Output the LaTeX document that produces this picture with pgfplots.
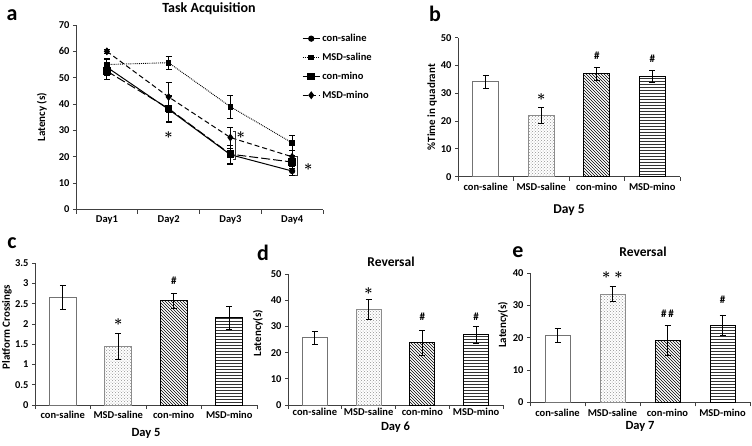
\documentclass[border=0pt]{standalone}
\usepackage{fontspec}
\setmainfont{Carlito}
\usepackage{pgfplots}
\pgfplotsset{compat=1.18}
\usetikzlibrary{patterns}

\newcommand{\st}{{\fontsize{15}{15}\selectfont\boldmath$\ast$}}
\pgfplotsset{
  panel/.style={
    scale only axis,
    axis x line*=bottom, axis y line*=left,
    axis line style={black!75, line width=0.8pt},
    tick style={black!75, line width=0.8pt},
    tick align=outside,
    major tick length=3pt,
    minor tick length=4pt,
    xmin=0.5, xmax=4.5, ymin=0,
    xtick={1,2,3,4},
    major x tick style={draw=none},
    minor xtick={0.5,1.5,2.5,3.5,4.5},
    font=\bfseries,
    /pgf/number format/assume math mode=true,
    tick label style={font=\bfseries\fontsize{10.5}{12}\selectfont},
    label style={font=\bfseries\fontsize{11}{13}\selectfont},
    clip=false,
  },
  barpanel/.style={
    panel,
    xticklabels={con-saline,MSD-saline,con-mino,MSD-mino},
    xlabel style={font=\bfseries\fontsize{13.5}{15}\selectfont, anchor=center},
  },
  ebar/.style={
    error bars/.cd, y dir=both, y explicit,
    error bar style={black, line width=0.8pt, solid},
    error mark options={rotate=90, mark size=3pt, black, line width=0.8pt, solid},
  },
  b1/.style={ybar, bar shift=0pt, fill=white, draw=black!55, line width=1pt},
  b2/.style={ybar, bar shift=0pt, pattern=crosshatch dots, pattern color=gray!85, draw=black!45, line width=1pt},
  b3/.style={ybar, bar shift=0pt, pattern=north west lines, pattern color=black, draw=black, line width=1pt},
  b4/.style={ybar, bar shift=0pt, pattern=horizontal lines, pattern color=black!80, draw=black, line width=1pt},
}

\begin{document}
\begin{tikzpicture}[x=1pt,y=1pt]
\useasboundingbox (0,0) rectangle (752,445);

% panel letters and titles
\node[font=\bfseries\fontsize{22}{24}\selectfont] at (12,430) {a};
\node[font=\bfseries\fontsize{22}{24}\selectfont] at (435,431) {b};
\node[font=\bfseries\fontsize{22}{24}\selectfont] at (12,202) {c};
\node[font=\bfseries\fontsize{22}{24}\selectfont] at (263,192) {d};
\node[font=\bfseries\fontsize{22}{24}\selectfont] at (518,193) {e};
\node[font=\bfseries\fontsize{14}{16}\selectfont] at (209,436) {Task Acquisition};
\node[font=\bfseries\fontsize{13.5}{15}\selectfont] at (391,183) {Reversal};
\node[font=\bfseries\fontsize{13.5}{15}\selectfont] at (643,193) {Reversal};

% ---------- panel a ----------
\begin{axis}[panel, at={(76pt,235.5pt)}, anchor=south west,
  width=247pt, height=184.5pt, ymax=70, ytick={0,10,...,70},
  xticklabels={Day1,Day2,Day3,Day4},
  ylabel={Latency (s)},
  ylabel style={at={(axis description cs:-0.138,0.5)}, anchor=center},
  legend style={at={(rel axis cs:0.915,0.962)}, anchor=north west, draw=none, fill=none,
    font=\bfseries\fontsize{10.5}{12}\selectfont, row sep=6pt, inner sep=0pt},
  legend cell align=left,
]
\addplot[black, line width=1pt, mark=*, mark size=2.6pt, mark options={solid}, ebar]
  coordinates {(1,54) +- (0,3) (2,38) +- (0,5) (3,20.8) +- (0,3.5) (4,14.6) +- (0,1.8)};
\addlegendentry{con-saline}
\addplot[black, line width=0.9pt, densely dotted, mark=square*, mark size=2.3pt, mark options={solid}, ebar]
  coordinates {(1,55) +- (0,2.5) (2,55.7) +- (0,2.5) (3,39) +- (0,4.3) (4,25.3) +- (0,3)};
\addlegendentry{MSD-saline}
\addplot[black, line width=1pt, dash pattern=on 9pt off 3pt, mark=square*, mark size=3.3pt, mark options={solid}, ebar]
  coordinates {(1,52.5) +- (0,3) (2,38.3) +- (0,5) (3,21) +- (0,3.5) (4,18) +- (0,2.5)};
\addlegendentry{con-mino}
\addplot[black, line width=1pt, dash pattern=on 5pt off 3pt, mark=diamond*, mark size=3.2pt, mark options={solid}, ebar]
  coordinates {(1,60) +- (0,0.8) (2,42.7) +- (0,5.7) (3,27.3) +- (0,4) (4,20) +- (0,2.5)};
\addlegendentry{MSD-mino}
\draw[black!80, line width=0.7pt] (axis cs:3.04,29.8) -- (axis cs:3.08,29.8) -- (axis cs:3.08,18.9) -- (axis cs:3.04,18.9);
\draw[black!80, line width=0.7pt] (axis cs:4.05,20.2) -- (axis cs:4.09,20.2) -- (axis cs:4.09,12.9) -- (axis cs:4.05,12.9);
\node at (axis cs:2,28.1) {\st};
\node at (axis cs:3.17,28.1) {\st};
\node at (axis cs:4.26,16.1) {\st};
\end{axis}

% ---------- panel b ----------
\begin{axis}[barpanel, at={(458pt,268.3pt)}, anchor=south west,
  width=222pt, height=139pt, ymax=50, ytick={0,10,...,50},
  ylabel={\%Time in quadrant},
  ylabel style={at={(axis description cs:-0.117,0.5)}, anchor=center},
  xlabel={Day 5},
  xlabel style={at={(axis description cs:0.5,-0.24)}},
]
\addplot[b1, bar width=26pt, ebar] coordinates {(1,34.2) +- (0,2.4)};
\addplot[b2, bar width=26pt, ebar] coordinates {(2,22) +- (0,2.8)};
\addplot[b3, bar width=26pt, ebar] coordinates {(3,37) +- (0,2.4)};
\addplot[b4, bar width=26pt, ebar] coordinates {(4,36) +- (0,2.2)};
\node at (axis cs:2,28.8) {\st};
\node[font=\bfseries\fontsize{11}{12}\selectfont] at (axis cs:3,43.4) {\#};
\node[font=\bfseries\fontsize{11}{12}\selectfont] at (axis cs:4,42.6) {\#};
\end{axis}

% ---------- panel c ----------
\begin{axis}[barpanel, at={(35pt,40pt)}, anchor=south west,
  width=222pt, height=141.7pt, ymax=3.5, ytick={0,0.5,...,3.5},
  yticklabel style={/pgf/number format/.cd, fixed, precision=1},
  ylabel={Platform Crossings},
  ylabel style={at={(axis description cs:-0.126,0.55)}, anchor=center},
  xlabel={Day 5},
  xlabel style={at={(axis description cs:0.5,-0.2)}, font=\bfseries\fontsize{12.5}{14}\selectfont},
]
\addplot[b1, bar width=27pt, ebar] coordinates {(1,2.65) +- (0,0.3)};
\addplot[b2, bar width=27pt, ebar] coordinates {(2,1.44) +- (0,0.32)};
\addplot[b3, bar width=27pt, ebar] coordinates {(3,2.57) +- (0,0.18)};
\addplot[b4, bar width=27pt, ebar] coordinates {(4,2.15) +- (0,0.28)};
\node at (axis cs:2,2.05) {\st};
\node[font=\bfseries\fontsize{11}{12}\selectfont] at (axis cs:3,3.08) {\#};
\end{axis}

% ---------- panel d ----------
\begin{axis}[barpanel, at={(288pt,40pt)}, anchor=south west,
  width=215pt, height=131pt, ymax=50, ytick={0,10,...,50},
  xticklabel style={yshift=3pt},
  ylabel={Latency(s)},
  ylabel style={at={(axis description cs:-0.14,0.55)}, anchor=center},
  xlabel={Day 6},
  xlabel style={at={(axis description cs:0.5,-0.168)}, font=\bfseries\fontsize{12.5}{14}\selectfont},
]
\addplot[b1, bar width=25pt, ebar] coordinates {(1,25.7) +- (0,2.5)};
\addplot[b2, bar width=25pt, ebar] coordinates {(2,36.5) +- (0,3.8)};
\addplot[b3, bar width=25pt, ebar] coordinates {(3,23.8) +- (0,4.8)};
\addplot[b4, bar width=25pt, ebar] coordinates {(4,26.8) +- (0,3.2)};
\node at (axis cs:2,43.5) {\st};
\node[font=\bfseries\fontsize{11}{12}\selectfont] at (axis cs:3,33.5) {\#};
\node[font=\bfseries\fontsize{11}{12}\selectfont] at (axis cs:4,33.5) {\#};
\end{axis}

% ---------- panel e ----------
\begin{axis}[barpanel, at={(530pt,42.7pt)}, anchor=south west,
  width=220pt, height=129pt, ymax=40, ytick={0,10,...,40},
  ylabel={Latency(s)},
  ylabel style={at={(axis description cs:-0.123,0.6)}, anchor=center},
  xlabel={Day 7},
  xlabel style={at={(axis description cs:0.5,-0.19)}, font=\bfseries\fontsize{12.5}{14}\selectfont},
]
\addplot[b1, bar width=25pt, ebar] coordinates {(1,20.8) +- (0,2.2)};
\addplot[b2, bar width=25pt, ebar] coordinates {(2,33.5) +- (0,2.3)};
\addplot[b3, bar width=25pt, ebar] coordinates {(3,19.2) +- (0,4.6)};
\addplot[b4, bar width=25pt, ebar] coordinates {(4,23.9) +- (0,3.2)};
\node at (axis cs:2,39.5) {\st\hspace{4pt}\st};
\node[font=\bfseries\fontsize{11}{12}\selectfont] at (axis cs:3,27.4) {\#\hspace{2pt}\#};
\node[font=\bfseries\fontsize{11}{12}\selectfont] at (axis cs:4,31.7) {\#};
\end{axis}
\end{tikzpicture}
\end{document}
